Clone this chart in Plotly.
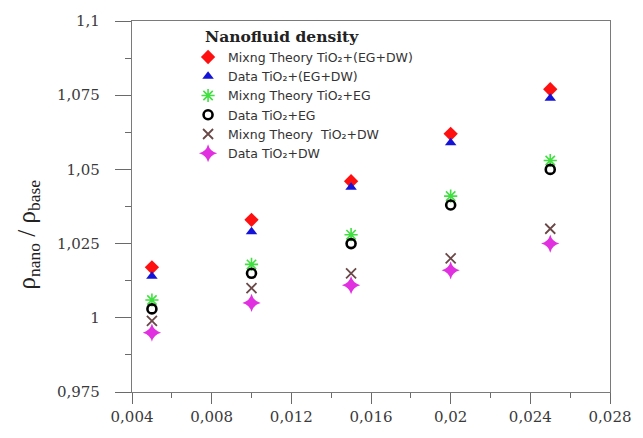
import plotly.graph_objects as go

# Volume fraction of TiO2 nanoparticles
phi = [0.005, 0.010, 0.015, 0.020, 0.025]

# Density ratio rho_nano / rho_base for each series
mix_eg_dw = [1.017, 1.033, 1.046, 1.062, 1.077]
data_eg_dw = [1.014, 1.029, 1.044, 1.059, 1.074]
mix_eg = [1.006, 1.018, 1.028, 1.041, 1.053]
data_eg = [1.003, 1.015, 1.025, 1.038, 1.050]
mix_dw = [0.999, 1.010, 1.015, 1.020, 1.030]
data_dw = [0.995, 1.005, 1.011, 1.016, 1.025]

series_names = [
    "Mixng Theory TiO₂+(EG+DW)",
    "Data TiO₂+(EG+DW)",
    "Mixng Theory TiO₂+EG",
    "Data TiO₂+EG",
    "Mixng Theory  TiO₂+DW",
    "Data TiO₂+DW",
]

x_tickvals = [0.004, 0.008, 0.012, 0.016, 0.020, 0.024, 0.028]
x_ticktext = ["0,004", "0,008", "0,012", "0,016", "0,02", "0,024", "0,028"]
y_tickvals = [0.975, 1.0, 1.025, 1.05, 1.075, 1.1]
y_ticktext = ["0,975", "1", "1,025", "1,05", "1,075", "1,1"]

styles = [
    dict(symbol="diamond", color="#ff1010", size=11, line=dict(width=0)),
    dict(symbol="triangle-up", color="#1414d8", size=10, line=dict(width=0)),
    dict(symbol="asterisk-open", color="#40e040", size=11, line=dict(width=1.6, color="#40e040")),
    dict(symbol="circle-open", color="#000000", size=9, line=dict(width=2.6, color="#000000")),
    dict(symbol="x-thin-open", color="#6a4848", size=10, line=dict(width=1.8, color="#6a4848")),
    dict(symbol="star-diamond", color="#e030e0", size=13, line=dict(width=0)),
]

series = [mix_eg_dw, data_eg_dw, mix_eg, data_eg, mix_dw, data_dw]

fig = go.Figure()
for name, ys, st in zip(series_names, series, styles):
    fig.add_trace(go.Scatter(x=phi, y=ys, mode="markers", name=name, marker=st))

axis_common = dict(
    showgrid=False, zeroline=False,
    showline=True, linecolor="#7a7a7a", linewidth=1.3, mirror=True,
    ticks="outside", tickwidth=1, tickcolor="#6a6a6a",
    tickfont=dict(family="DejaVu Serif", size=15, color="#3a3a3a"),
)

fig.update_xaxes(
    range=[0.004, 0.028], tickmode="array",
    tickvals=x_tickvals, ticktext=x_ticktext, ticklen=11,
    minor=dict(dtick=0.002, ticks="outside", ticklen=5, tickwidth=1, tickcolor="#6a6a6a"),
    **axis_common,
)
fig.update_yaxes(
    range=[0.975, 1.1], tickmode="array",
    tickvals=y_tickvals, ticktext=y_ticktext, ticklen=16,
    ticklabelstandoff=12,
    minor=dict(dtick=0.0125, ticks="outside", ticklen=6, tickwidth=1, tickcolor="#6a6a6a"),
    **axis_common,
)

# Plot-area geometry in pixels
left, right, top, bottom = 132, 25, 15, 41
W, H = 643, 438
pw, ph = W - left - right, H - top - bottom

def px(x):
    return (x - left) / pw

def py(y):
    return (H - bottom - y) / ph

fig.update_layout(
    width=W, height=H,
    margin=dict(l=left, r=right, t=top, b=bottom),
    paper_bgcolor="white", plot_bgcolor="white",
    showlegend=True,
    legend=dict(
        x=px(189), y=py(37), xanchor="left", yanchor="top",
        bgcolor="rgba(0,0,0,0)",
        font=dict(family="DejaVu Sans", size=12.5, color="#333333"),
        itemwidth=30, tracegroupgap=0,
    ),
    annotations=[
        dict(text="<b>Nanofluid density</b>", xref="paper", yref="paper",
             x=px(204), y=py(31), xanchor="left", yanchor="middle", showarrow=False,
             font=dict(family="DejaVu Serif", size=15.5, color="#222222")),
        dict(text="ρ<sub>nano</sub> / ρ<sub>base</sub>", xref="paper", yref="paper",
             x=px(27), y=py(235), xanchor="center", yanchor="middle",
             textangle=-90, showarrow=False,
             font=dict(family="Liberation Serif", size=25, color="#222222")),
    ],
)

fig.write_html("out.html")
